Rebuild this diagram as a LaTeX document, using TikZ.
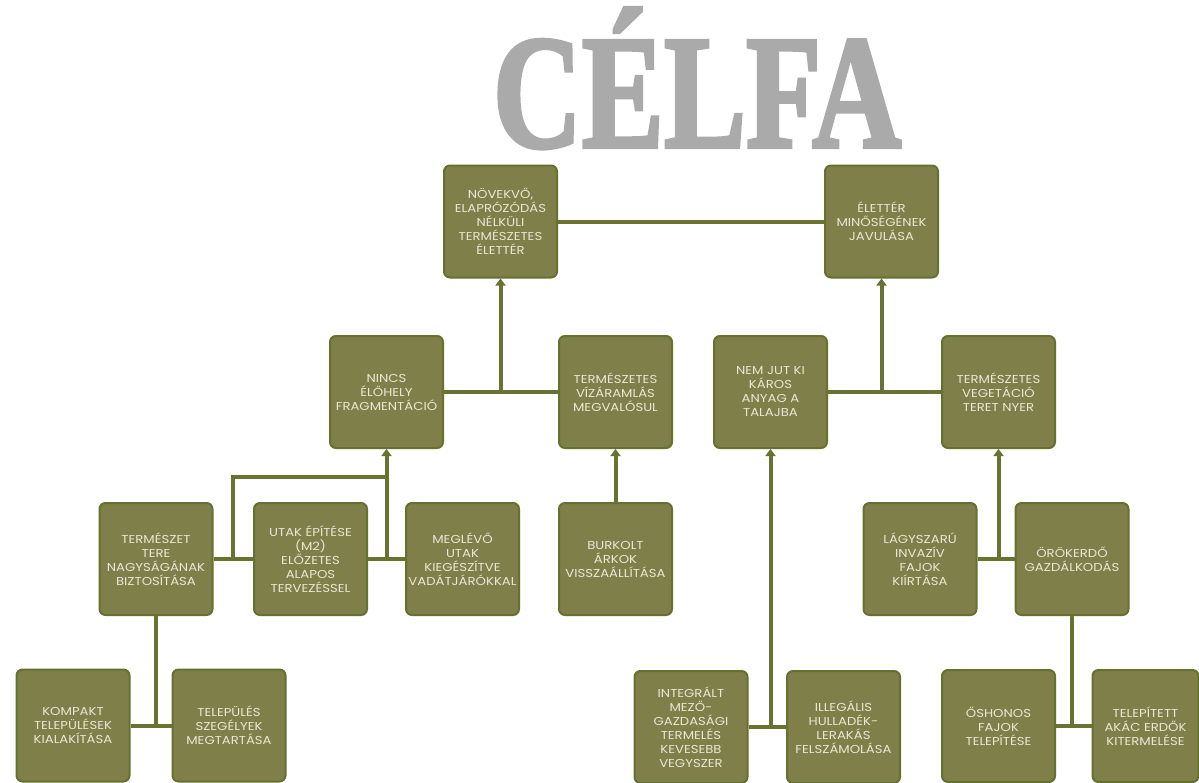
\documentclass[tikz,border=0pt]{standalone}
\usepackage{fontspec}
\setmainfont{Poppins}[FakeStretch=1.15]
\newfontfamily\titlefont{Liberation Serif}[BoldFeatures={FakeBold=2.5}]
\usetikzlibrary{arrows.meta}
\definecolor{boxfill}{RGB}{127,127,74}
\definecolor{boxline}{RGB}{102,112,47}
\definecolor{conn}{RGB}{106,114,50}
\definecolor{boxtext}{RGB}{232,232,212}
\definecolor{titlegray}{RGB}{170,170,170}
\tikzset{
  goal/.style={draw=boxline, line width=2pt, fill=boxfill, rounded corners=6pt,
    minimum width=113pt, minimum height=112pt, inner sep=1pt, align=center,
    text=boxtext, font=\fontsize{11.5}{14}\selectfont},
  link/.style={draw=conn, line width=4pt},
  uplink/.style={link, -{Triangle[width=10pt,length=7pt]}}
}
\begin{document}
\begin{tikzpicture}[x=1pt,y=-1pt]
\useasboundingbox (0,0) rectangle (1199,782);
\node[text=titlegray, anchor=base, xscale=0.76, font=\titlefont\bfseries\fontsize{162}{162}\selectfont] (title) at (697,147) {CÉLFA};
% top
\node[goal] (A) at (500.5,221.5) {NÖVEKVŐ,\\ELAPRÓZÓDÁS\\NÉLKÜLI\\TERMÉSZETES\\ÉLETTÉR};
\node[goal] (B) at (881.5,221.5) {ÉLETTÉR\\MINŐSÉGÉNEK\\JAVULÁSA};
% middle
\node[goal] (C) at (386.5,392) {NINCS\\ÉLŐHELY\\FRAGMENTÁCIÓ};
\node[goal] (D) at (615.5,392) {TERMÉSZETES\\VÍZÁRAMLÁS\\MEGVALÓSUL};
\node[goal] (E) at (770.5,392) {NEM JUT KI\\KÁROS\\ANYAG A\\TALAJBA};
\node[goal] (F) at (998.5,392) {TERMÉSZETES\\VEGETÁCIÓ\\TERET NYER};
% third row
\node[goal] (G) at (156,559) {TERMÉSZET\\TERE\\NAGYSÁGÁNAK\\BIZTOSÍTÁSA};
\node[goal] (H) at (310.5,559) {UTAK ÉPÍTÉSE\\(M2)\\ELŐZETES\\ALAPOS\\TERVEZÉSSEL};
\node[goal] (I) at (462.5,559) {MEGLÉVŐ\\UTAK\\KIEGÉSZÍTVE\\VADÁTJÁRÓKKAL};
\node[goal] (J) at (615.5,559) {BURKOLT\\ÁRKOK\\VISSZAÁLLÍTÁSA};
\node[goal] (K) at (920,559) {LÁGYSZARÚ\\INVAZÍV\\FAJOK\\KIÍRTÁSA};
\node[goal] (L) at (1072,559) {ÖRÖKERDŐ\\GAZDÁLKODÁS};
% bottom row
\node[goal] (M) at (73,725.5) {KOMPAKT\\TELEPÜLÉSEK\\KIALAKÍTÁSA};
\node[goal] (N) at (229,725.5) {TELEPÜLÉS\\SZEGÉLYEK\\MEGTARTÁSA};
\node[goal] (O) at (691,727) {INTEGRÁLT\\MEZŐ-\\GAZDASÁGI\\TERMELÉS\\KEVESEBB\\VEGYSZER};
\node[goal] (P) at (843.5,727) {ILLEGÁLIS\\HULLADÉK-\\LERAKÁS\\FELSZÁMOLÁSA};
\node[goal] (Q) at (998.5,726) {ŐSHONOS\\FAJOK\\TELEPÍTÉSE};
\node[goal, minimum width=106pt] (R) at (1145.5,726) {TELEPÍTETT\\AKÁC ERDŐK\\KITERMELÉSE};
% connectors
\draw[link] (A.east) -- (B.west);
\draw[link] (C.east) -- (D.west);
\draw[uplink] (A.south |- C.east) -- (A.south);
\draw[link] (E.east) -- (F.west);
\draw[uplink] (B.south |- E.east) -- (B.south);
\draw[link] (G.east) -- (H.west);
\draw[link] (H.east) -- (I.west);
\draw[uplink] (C.south |- H.east) -- (C.south);
\coordinate (g1) at (233,559);
\coordinate (g2) at (386.5,477);
\draw[link] (g1) |- (g2);
\draw[uplink] (D.south |- J.north) -- (D.south);
\draw[link] (K.east) -- (L.west);
\draw[uplink] (F.south |- K.east) -- (F.south);
\draw[link] (M.east) -- (N.west);
\draw[link] (G.south |- M.east) -- (G.south);
\draw[link] (O.east) -- (P.west);
\draw[uplink] (E.south |- O.east) -- (E.south);
\draw[link] (Q.east) -- (R.west);
\draw[link] (L.south |- Q.east) -- (L.south);
\end{tikzpicture}
\end{document}
